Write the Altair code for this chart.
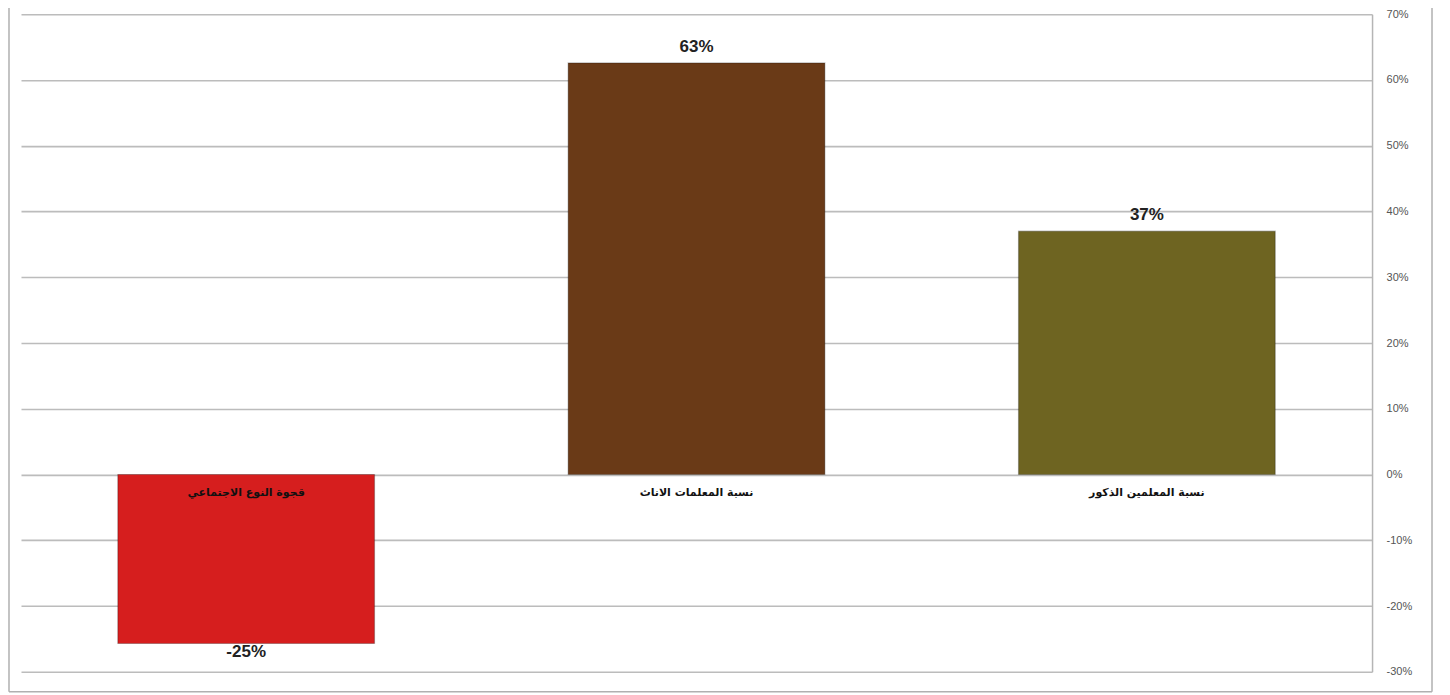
import altair as alt
import pandas as pd

categories = ["قجوة النوع الاجتماعي", "نسبة المعلمات الاناث", "نسبة المعلمين الذكور"]
values = [-0.257, 0.626, 0.370]
value_labels = ["-25%", "63%", "37%"]
colors = ["#D61E1E", "#6A3A17", "#6E6421"]
tick_values = [-0.3, -0.2, -0.1, 0, 0.1, 0.2, 0.3, 0.4, 0.5, 0.6, 0.7]

df = pd.DataFrame({
    "cat": categories,
    "val": values,
    "lab": value_labels,
    "col": colors,
})

W, H = 1352, 658

x = alt.X("cat:N", sort=categories, axis=None,
          scale=alt.Scale(paddingInner=0.43, paddingOuter=0.215))
y = alt.Y("val:Q",
          scale=alt.Scale(domain=[-0.3, 0.7], nice=False),
          axis=alt.Axis(orient="right", values=tick_values,
                        labelExpr="toString(round(datum.value * 100)) + '%'",
                        grid=True, gridColor="#bcbcbc", gridWidth=1.6,
                        domainColor="#b5b5b5", domainWidth=1.5, ticks=False,
                        labelPadding=14, labelColor="#555555", labelFontSize=11,
                        labelFont="Liberation Sans", title=None))

frame_df = pd.DataFrame({"k": [0]})
frame_left = alt.Chart(frame_df).mark_rule(color="#b0b0b0", strokeWidth=1.5).encode(
    x=alt.value(-12), y=alt.value(-30), y2=alt.value(678))
frame_right = alt.Chart(frame_df).mark_rule(color="#b0b0b0", strokeWidth=1.5).encode(
    x=alt.value(1412), y=alt.value(-30), y2=alt.value(678))
frame_bottom = alt.Chart(frame_df).mark_rule(color="#b0b0b0", strokeWidth=1.5).encode(
    x=alt.value(-12), x2=alt.value(1412), y=alt.value(678))

bars = alt.Chart(df).mark_bar(stroke="#00000040", strokeWidth=1.2).encode(
    x=x, y=y, y2=alt.datum(0),
    color=alt.Color("col:N", scale=None),
)

pos_labels = alt.Chart(df).transform_filter("datum.val >= 0").mark_text(
    baseline="bottom", dy=-7, font="Liberation Sans", fontSize=17, fontWeight="bold", color="#222222"
).encode(x=x, y=y, text="lab:N")

neg_labels = alt.Chart(df).transform_filter("datum.val < 0").mark_text(
    baseline="top", dy=1, font="Liberation Sans", fontSize=17, fontWeight="bold", color="#222222"
).encode(x=x, y=y, text="lab:N")

cat_labels = alt.Chart(df).mark_text(
    baseline="middle", dy=19, font="DejaVu Sans", fontSize=11, fontWeight="bold", color="#111111"
).encode(x=x, y=alt.datum(0), text="cat:N")

chart = alt.layer(bars, pos_labels, neg_labels, cat_labels, frame_left, frame_right, frame_bottom).properties(
    width=W, height=H,
    background="white",
    padding={"left": 13, "top": 6, "right": 70, "bottom": 22},
    autosize=alt.AutoSizeParams(type="none"),
).configure_view(stroke=None)

chart.save("out.html", embed_options={"renderer": "svg", "actions": False})
